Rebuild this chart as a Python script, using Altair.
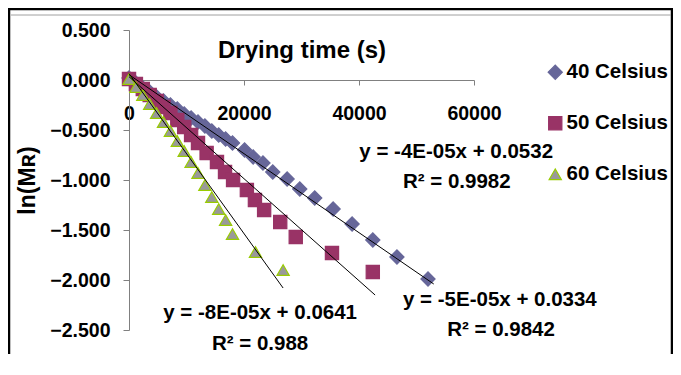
import altair as alt
import pandas as pd

series_names = ["40 Celsius", "50 Celsius", "60 Celsius"]

x40 = [0, 1200, 2400, 3600, 4800, 6000, 7200, 8400, 9600, 10800, 12000, 13200, 14400,
       15600, 16800, 18000, 20100, 21600, 23300, 25000, 27500, 29700, 32300, 35500,
       38800, 42400, 46600, 52000]
y40 = [0.02, -0.03, -0.08, -0.12, -0.17, -0.21, -0.25, -0.29, -0.34, -0.38, -0.42, -0.46,
       -0.51, -0.55, -0.59, -0.63, -0.70, -0.77, -0.83, -0.92, -0.99, -1.09, -1.18, -1.29,
       -1.44, -1.60, -1.77, -1.99]

x50 = [0, 1200, 2400, 3600, 4800, 6000, 7200, 8400, 9600, 10800, 12000, 13500, 15300,
       16700, 18100, 20500, 21900, 23500, 26300, 29000, 35300, 42400]
y50 = [0.01, -0.04, -0.09, -0.15, -0.21, -0.27, -0.33, -0.40, -0.47, -0.55, -0.63, -0.73,
       -0.82, -0.92, -1.00, -1.10, -1.20, -1.30, -1.42, -1.57, -1.73, -1.92]

x60 = [0, 1200, 2400, 3600, 4800, 6000, 7200, 8400, 9600, 10800, 12000, 13200, 14400,
       15600, 16800, 18000, 22000, 26800]
y60 = [0.01, -0.07, -0.15, -0.24, -0.33, -0.42, -0.51, -0.61, -0.71, -0.82, -0.93, -1.05,
       -1.17, -1.29, -1.40, -1.54, -1.72, -1.90]

# trendline endpoints
fit_x0 = [0, 0, 0]
fit_y0 = [0.0532, 0.0334, 0.0641]
fit_x1 = [53000, 42800, 26800]
fit_y1 = [-2.04, -2.15, -2.08]

eq_text = ["y = -4E-05x + 0.0532", "y = -5E-05x + 0.0334", "y = -8E-05x + 0.0641"]
eq_x = [56900, 64500, 22800]
eq_y = [-0.72, -2.20, -2.33]
r2_text = ["R\u00b2 = 0.9982", "R\u00b2 = 0.9842", "R\u00b2 = 0.988"]
r2_x = [57000, 64700, 22800]
r2_y = [-1.02, -2.50, -2.64]

x_ticks = [0, 20000, 40000, 60000]
y_ticks = [0.5, 0.0, -0.5, -1.0, -1.5, -2.0, -2.5]

fill_colors = ["#666699", "#993366", "#999999"]
stroke_colors = ["#666699", "#993366", "#99cc00"]
shapes = ["diamond", "square", "triangle-up"]
sizes = [200, 150, 220]

FONT = "Liberation Sans"

rows = []
for name, xs, ys in zip(series_names, [x40, x50, x60], [y40, y50, y60]):
    for a, b in zip(xs, ys):
        rows.append({"series": name, "x": a, "y": b})
df = pd.DataFrame(rows)

fit_rows = []
for i, name in enumerate(series_names):
    fit_rows.append({"series": name, "x": fit_x0[i], "y": fit_y0[i]})
    fit_rows.append({"series": name, "x": fit_x1[i], "y": fit_y1[i]})
fit_df = pd.DataFrame(fit_rows)

ann_df = pd.DataFrame({
    "text": eq_text + r2_text,
    "x": eq_x + r2_x,
    "y": eq_y + r2_y,
})

xscale = alt.Scale(domain=[0, 60000], nice=False, zero=False)
yscale = alt.Scale(domain=[-2.5, 0.5], nice=False, zero=False)

xaxis = alt.Axis(
    values=x_ticks, format="d", orient="bottom", offset=-250,
    labelFont=FONT, labelFontSize=19.5, labelFontWeight="bold", labelColor="black",
    labelPadding=19, labelFlush=False, labelOverlap=False,
    domainColor="#808080", tickColor="#808080", tickSize=5, grid=False,
    title="Drying time (s)", titleFont=FONT, titleFontSize=24, titleFontWeight="bold",
    titleColor="black", titleY=-30, titleBaseline="middle",
)
yaxis = alt.Axis(
    values=y_ticks, format=".3f",
    labelFont=FONT, labelFontSize=19.5, labelFontWeight="bold", labelColor="black",
    labelPadding=13, domainColor="#808080", tickColor="#808080", tickSize=6, grid=False,
    title="ln(M\u0280)", titleFont=FONT, titleFontSize=23, titleFontWeight="bold",
    titleColor="black", titleAngle=270, titleX=-102, titleY=150,
    titleAlign="center", titleBaseline="middle",
)

leg = alt.Legend(title=None, orient="none", legendX=416, legendY=32,
                 labelFont=FONT, labelFontSize=20.5, labelFontWeight="bold",
                 labelColor="black", rowPadding=30, labelOffset=1, padding=0,
                 symbolStrokeWidth=1.2)

points = alt.Chart(df).mark_point(filled=True, opacity=1, strokeWidth=1.2).encode(
    x=alt.X("x:Q", scale=xscale, axis=xaxis),
    y=alt.Y("y:Q", scale=yscale, axis=yaxis),
    fill=alt.Fill("series:N", scale=alt.Scale(domain=series_names, range=fill_colors), legend=leg),
    stroke=alt.Stroke("series:N", scale=alt.Scale(domain=series_names, range=stroke_colors), legend=leg),
    shape=alt.Shape("series:N", scale=alt.Scale(domain=series_names, range=shapes), legend=leg),
    size=alt.Size("series:N", scale=alt.Scale(domain=series_names, range=sizes), legend=leg),
    order=alt.Order("series:N"),
)

fits = alt.Chart(fit_df).mark_line(color="black", strokeWidth=1).encode(
    x=alt.X("x:Q", scale=xscale),
    y=alt.Y("y:Q", scale=yscale),
    detail="series:N",
)

labels = alt.Chart(ann_df).mark_text(
    font=FONT, fontSize=20.5, fontWeight="bold", color="black",
    align="center", baseline="middle",
).encode(
    x=alt.X("x:Q", scale=xscale),
    y=alt.Y("y:Q", scale=yscale),
    text="text:N",
)

frame_df = pd.DataFrame({"k": [0]})
frame_left = alt.Chart(frame_df).mark_rule(color="black", strokeWidth=2.5).encode(
    x=alt.value(-120), y=alt.value(-22), y2=alt.value(420),
)
frame_top = alt.Chart(frame_df).mark_rule(color="black", strokeWidth=2.5).encode(
    x=alt.value(-121), x2=alt.value(544), y=alt.value(-21),
)
frame_right = alt.Chart(frame_df).mark_rule(color="black", strokeWidth=2.5).encode(
    x=alt.value(543), y=alt.value(-22), y2=alt.value(420),
)
inner = alt.Chart(frame_df).mark_rule(color="#a0a0a0", strokeWidth=1).encode(
    x=alt.value(-118), x2=alt.value(542), y=alt.value(-15),
)

chart = alt.layer(frame_left, frame_top, frame_right, inner, points, fits, labels).properties(
    width=345, height=300,
    autosize=alt.AutoSizeParams(type="none"),
    padding={"left": 121, "top": 22, "right": 199, "bottom": 24},
    background="white",
).configure_view(strokeWidth=0)

chart.save("out.html", embed_options={"renderer": "svg", "actions": False})
